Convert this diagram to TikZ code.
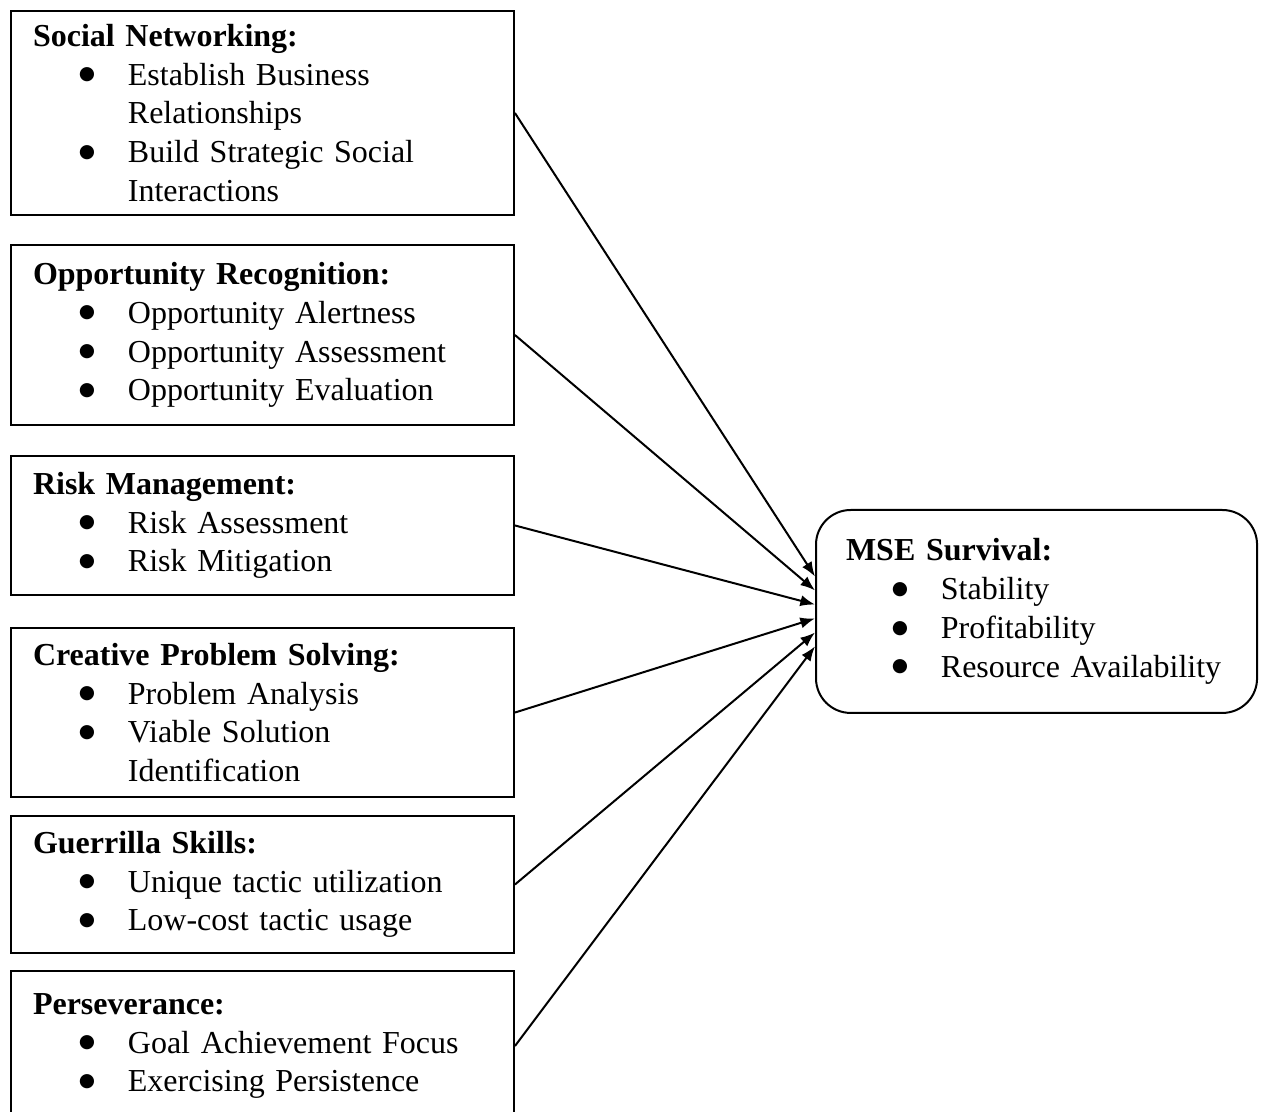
\documentclass[tikz,border=0pt]{standalone}
\usepackage{fontspec}
\setmainfont{Liberation Serif}[WordSpace=0.85]
\newfontfamily\dotfont{DejaVu Sans}
\usetikzlibrary{positioning,arrows.meta}

\newcommand{\bul}{\hspace*{17.2pt}\makebox[18.4pt][l]{\raisebox{2pt}{\dotfont\fontsize{7}{7}\selectfont ●}}}
\newcommand{\cont}{\hspace*{35.6pt}}

\begin{document}
\begin{tikzpicture}[
  x=0.375pt, y=-0.375pt,
  factor/.style={draw, line width=0.75pt, anchor=north west, minimum width=188.6pt,
    text width=172.1pt, inner xsep=8.25pt, inner ysep=1pt, align=left,
    font=\fontsize{12}{14.55}\selectfont},
  outcome/.style={factor, rounded corners=13pt, minimum width=165.4pt,
    text width=142.9pt, inner xsep=11.25pt}
]
\useasboundingbox (0,0) rectangle (1261,1112);

\node[factor, minimum height=76.5pt] (sn) at (10,10) {\textbf{Social Networking:}\\
  \bul Establish Business\\ \cont Relationships\\
  \bul Build Strategic Social\\ \cont Interactions};
\node[factor, minimum height=67.5pt] (opp) at (10,244) {\textbf{Opportunity Recognition:}\\
  \bul Opportunity Alertness\\ \bul Opportunity Assessment\\ \bul Opportunity Evaluation};
\node[factor, minimum height=52.1pt] (risk) at (10,455) {\textbf{Risk Management:}\\
  \bul Risk Assessment\\ \bul Risk Mitigation};
\node[factor, minimum height=63.4pt] (cps) at (10,627) {\textbf{Creative Problem Solving:}\\
  \bul Problem Analysis\\ \bul Viable Solution\\ \cont Identification};
\node[factor, minimum height=51.4pt] (gs) at (10,815) {\textbf{Guerrilla Skills:}\\
  \bul Unique tactic utilization\\ \bul Low-cost tactic usage};
\node[factor, minimum height=56.25pt] (per) at (10,970) {\textbf{Perseverance:}\\
  \bul Goal Achievement Focus\\ \bul Exercising Persistence};

\node[outcome, minimum height=76.1pt] (mse) at (815,509) {\textbf{MSE Survival:}\\
  \bul Stability\\ \bul Profitability\\ \bul Resource Availability};

\path[line width=0.75pt, -{Latex[length=5.5pt,width=4.2pt]}]
(sn.east) edge ([yshift=13.1pt]mse.west)
(opp.east) edge ([yshift=7.9pt]mse.west)
(risk.east) edge ([yshift=2.6pt]mse.west)
(cps.east) edge ([yshift=-2.6pt]mse.west)
(gs.east) edge ([yshift=-7.9pt]mse.west)
(per.east) edge ([yshift=-13.1pt]mse.west);
\end{tikzpicture}
\end{document}
